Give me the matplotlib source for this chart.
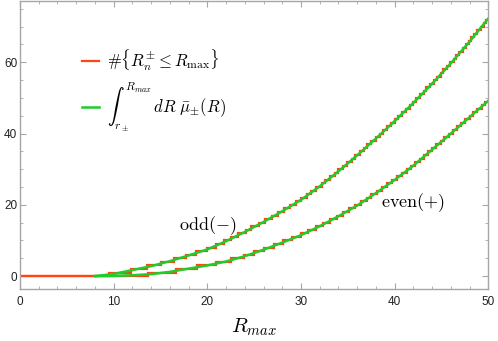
import numpy as np
import matplotlib
matplotlib.use("Agg")
import matplotlib.pyplot as plt
from matplotlib.ticker import MultipleLocator

plt.rcParams['mathtext.fontset'] = 'cm'
plt.rcParams['font.family'] = ['Liberation Sans', 'DejaVu Sans']

# smooth counting function
r_smooth = [8, 10, 12, 14, 16, 18, 20, 22, 24, 26, 28, 30, 32, 34, 36, 38, 40, 42, 44, 46, 48, 50]
odd_smooth = [0, 0.6, 1.7, 2.8, 4.2, 5.8, 7.5, 9.8, 12.4, 15.2, 18.2, 21.4, 25.2, 29.4, 33.9,
              38.6, 43.5, 48.6, 54.0, 59.7, 65.8, 72.3]
even_smooth = [0, 0.05, 0.25, 0.55, 1.2, 2.1, 3.0, 4.1, 5.6, 7.4, 9.4, 11.5, 14.0, 16.8, 19.8,
               23.3, 27.0, 31.0, 35.5, 40.0, 44.6, 49.2]

# positions of the levels R_n (each one raises the count by 1)
odd_levels = [9.5, 11.9, 13.6, 15.1, 16.4, 17.7, 18.8, 20.0, 20.9, 21.8, 22.5, 23.3, 24.1, 24.7,
              25.5, 26.2, 26.9, 27.5, 28.2, 28.8, 29.5, 30.0, 30.6, 31.1, 31.6, 32.2, 32.6, 33.1,
              33.6, 34.0, 34.5, 34.9, 35.4, 35.8, 36.3, 36.7, 37.1, 37.5, 38.0, 38.4, 38.8, 39.2,
              39.6, 40.0, 40.4, 40.8, 41.2, 41.6, 42.0, 42.3, 42.7, 43.1, 43.4, 43.8, 44.2, 44.5,
              44.9, 45.2, 45.6, 45.9, 46.3, 46.6, 46.9, 47.3, 47.6, 47.9, 48.2, 48.5, 48.8, 49.2,
              49.5, 49.8]
even_levels = [13.7, 16.7, 18.9, 20.9, 22.5, 23.9, 25.0, 26.1, 27.1, 28.1, 29.0, 30.0, 30.8,
               31.6, 32.4, 33.1, 33.8, 34.5, 35.1, 35.8, 36.4, 37.0, 37.5, 38.1, 38.7, 39.2,
               39.7, 40.3, 40.8, 41.3, 41.8, 42.2, 42.7, 43.1, 43.6, 44.0, 44.4, 44.9, 45.3,
               45.8, 46.2, 46.7, 47.1, 47.5, 48.0, 48.4, 48.8, 49.3, 49.7]

red = '#ff4612'
green = '#1fcc2c'
gray = '#a6a6a6'

fig = plt.figure(figsize=(4.98, 3.41), dpi=100)
ax = fig.add_axes([0.0402, 0.1516, 0.9403, 0.8454])

for levels in (odd_levels, even_levels):
    xs = np.concatenate([[0], levels, [50]])
    ys = np.arange(len(xs))
    ys[-1] = ys[-2]
    ax.step(xs, ys, where='post', color=red, lw=1.6, solid_joinstyle='miter',
            label=r'$\#\{R_n^{\pm}\leq R_{\mathrm{max}}\}$' if levels is odd_levels else None)

ax.plot(r_smooth, odd_smooth, color=green, lw=1.8,
        label=r'$\int_{r_\pm}^{R_{max}}\, dR\; \bar{\mu}_{\pm}(R)$')
ax.plot(r_smooth, even_smooth, color=green, lw=1.8)

ax.set_xlim(0, 50)
ax.set_ylim(-3.7, 77.2)

ax.xaxis.set_major_locator(MultipleLocator(10))
ax.xaxis.set_minor_locator(MultipleLocator(2))
ax.yaxis.set_major_locator(MultipleLocator(20))
ax.yaxis.set_minor_locator(MultipleLocator(5))
ax.tick_params(which='both', direction='in', top=True, right=True, color=gray,
               labelsize=8.5, labelcolor='#222222')
ax.tick_params(which='major', length=4, width=0.8)
ax.tick_params(which='minor', length=2, width=0.6)
ax.tick_params(axis='x', pad=5)
ax.tick_params(axis='y', pad=2)
for s in ax.spines.values():
    s.set_color(gray)
    s.set_linewidth(1.0)

ax.set_xlabel(r'$R_{max}$', fontsize=15, labelpad=6)

ax.text(20.0, 14.3, r'$\mathrm{odd}(-)$', fontsize=13, ha='center', va='center')
ax.text(41.9, 20.5, r'$\mathrm{even}(+)$', fontsize=13, ha='center', va='center')

ax.legend(loc='upper left', bbox_to_anchor=(0.10, 0.89), frameon=False, fontsize=12,
          handlelength=1.0, handletextpad=0.5, labelspacing=0.45)

fig.savefig('out.png', dpi=100)
